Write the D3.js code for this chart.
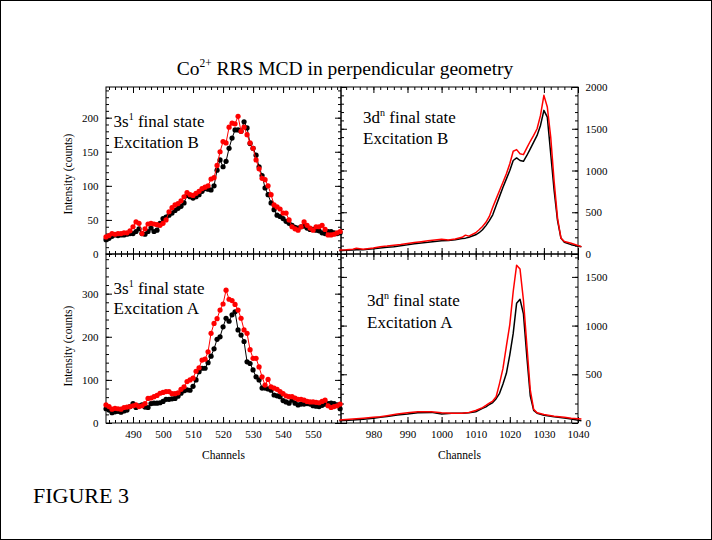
<!DOCTYPE html>
<html><head><meta charset="utf-8">
<script src="https://cdn.jsdelivr.net/npm/d3@7"></script>
<style>
body{margin:0;background:#fff}
svg{display:block}
</style></head><body>
<svg id="c" width="712" height="540"></svg>
<script>
// ---------------- DATA ----------------
const title = "Co";
const titleSup = "2+";
const titleRest = " RRS MCD in perpendicular geometry";
const figureLabel = "FIGURE 3";
const xAxisTitle = "Channels";
const yAxisTitle = "Intensity (counts)";

// 3s^1 final state panels: one point per channel starting at 481
const channels3sStart = 481;
const s3B_black = [21,23,26,28,27,28,28,29,30,30,
  33,37,30,29,33,38,33,35,45,52,
  54,57,60,64,67,70,75,86,84,82,
  84,87,92,96,95,94,100,123,138,128,
  136,155,170,182,182,180,194,185,162,155,
  145,128,115,97,87,75,65,57,55,52,
  48,45,42,39,38,40,41,38,36,36,
  35,34,31,30,33,33,31,30,31];
const s3B_red = [25,27,30,29,30,30,31,31,34,40,
  47,45,30,37,44,45,44,43,42,45,
  50,62,68,72,74,78,84,90,87,86,
  89,92,96,98,100,110,112,130,150,165,
  163,186,192,191,202,180,186,175,163,155,
  138,125,111,109,100,87,72,69,66,60,
  60,50,40,37,35,40,47,42,38,35,
  40,40,42,36,28,28,29,31,33];
const s3A_black = [33,30,24,26,27,25,28,30,38,45,
  36,40,42,37,36,45,46,46,47,50,
  55,55,56,57,62,69,75,77,76,85,
  100,119,127,127,140,155,172,194,200,223,
  243,236,251,258,216,204,189,142,138,123,
  107,100,81,81,79,76,65,63,61,52,
  49,46,53,46,42,44,44,45,44,40,
  39,38,41,44,45,46,45,42,33];
const s3A_red = [42,38,32,34,33,32,36,37,38,40,
  42,38,40,45,57,58,61,64,69,71,
  73,73,68,68,70,78,84,96,100,104,
  120,128,146,148,165,208,231,242,262,276,
  308,287,284,275,262,243,216,208,170,150,
  150,130,107,88,101,84,81,78,73,68,
  63,61,61,58,55,55,53,50,49,49,
  48,47,50,53,40,36,38,40,44];

// 3d^n final state, excitation B
const d3B_channels = [970,972,974,975,977,980,982,984,986,988,990,992,994,996,998,1000,1002,1004,1006,1007,1008,1010,1011,1012,1013,1014,1015,1016,1017,1018,1019,1020,1021,1022,1023,1024,1025,1026,1027,1028,1029,1030,1031,1032,1033,1034,1035,1036,1038,1041];
const d3B_red   = [48,52,58,68,56,72,88,95,104,114,126,138,148,158,168,176,168,180,200,226,214,255,290,330,380,450,560,660,760,860,960,1080,1230,1250,1200,1190,1270,1350,1420,1500,1660,1900,1760,1400,870,430,190,150,128,88];
const d3B_black = [40,44,48,50,50,62,72,80,88,100,110,122,132,140,150,160,162,170,186,190,200,230,255,290,340,400,470,580,690,800,900,1000,1120,1150,1120,1110,1180,1260,1340,1420,1540,1720,1640,1200,760,400,190,140,112,88];

// 3d^n final state, excitation A
const d3A_channels = [970,974,977,980,982,984,987,990,993,997,1000,1003,1006,1008,1010,1012,1013,1014,1015,1016,1017,1018,1019,1020,1021,1022,1023,1024,1025,1026,1027,1028,1030,1033,1036,1038,1041];
const d3A_red   = [31,40,48,58,65,75,92,106,116,116,106,99,99,108,128,158,180,205,225,270,407,560,790,1010,1350,1620,1580,1260,800,340,140,105,88,70,58,50,42];
const d3A_black = [24,30,38,50,58,66,82,92,106,109,92,99,99,104,116,150,165,190,210,250,305,400,510,700,920,1230,1270,1120,680,280,130,100,80,65,50,40,24];

// axis tick values
const xTicks3s = [490,500,510,520,530,540,550];
const xTicks3d = [980,990,1000,1010,1020,1030,1040];
const yTicksTL = [0,50,100,150,200];
const yTicksBL = [0,100,200,300];
const yTicksTR = [0,500,1000,1500,2000];
const yTicksBR = [0,500,1000,1500];

// ---------------- LAYOUT ----------------
const FONT = "'Liberation Serif','Times New Roman',Times,serif";
const svg = d3.select('#c').attr('font-family', FONT);
svg.append('rect').attr('x',0.5).attr('y',0.5).attr('width',711).attr('height',539)
  .attr('fill','#fff').attr('stroke','#000').attr('stroke-width',1);

const LX = [106, 341], RX = [341, 578], TY = [254, 87], BY = [423, 254];

const xL = d3.scaleLinear().domain([481, 559.3]).range(LX);
const xR = d3.scaleLinear().domain([970.5, 1040]).range(RX);
const yTL = d3.scaleLinear().domain([0, 245]).range(TY);
const yTR = d3.scaleLinear().domain([0, 2000]).range(TY);
const yBL = d3.scaleLinear().domain([0, 392]).range(BY);
const yBR = d3.scaleLinear().domain([0, 1735]).range(BY);

function minorTicks(scale, step) {
  const [a, b] = scale.domain();
  return d3.range(Math.ceil(a / step) * step, b + 1e-9, step);
}

function panel(xs, ys, xMaj, xStep, yMaj, yStep, ySide, showX) {
  const g = svg.append('g');
  const [x0, x1] = xs.range();
  const [yb, yt] = ys.range();
  const xMin = minorTicks(xs, xStep), yMin = minorTicks(ys, yStep);
  const defs = [
    [d3.axisBottom, xs, `translate(0,${yb})`, showX],
    [d3.axisTop, xs, `translate(0,${yt})`, false],
    [d3.axisLeft, ys, `translate(${x0},0)`, ySide === 'left'],
    [d3.axisRight, ys, `translate(${x1},0)`, ySide === 'right']
  ];
  defs.forEach(([fn, sc, tr, lab]) => {
    const isX = sc === xs;
    const minor = fn(sc).tickValues(isX ? xMin : yMin).tickSizeInner(-3).tickSizeOuter(0).tickFormat(() => '');
    const major = fn(sc).tickValues(isX ? xMaj : yMaj).tickSizeInner(-6).tickSizeOuter(0)
      .tickPadding(isX ? 7 : 7.5).tickFormat(lab ? d3.format('d') : () => '');
    [minor, major].forEach(a => {
      const ag = g.append('g').attr('transform', tr).call(a);
      ag.select('.domain').remove();
      ag.attr('font-family', FONT).attr('font-size', 11);
      ag.selectAll('line').attr('stroke', '#000');
      ag.selectAll('text').attr('fill', '#000');
    });
  });
  g.append('rect').attr('x', x0).attr('y', yt).attr('width', x1 - x0).attr('height', yb - yt)
    .attr('fill', 'none').attr('stroke', '#000').attr('stroke-width', 1);
  return g;
}

const plotLayer = svg.append('g');
const axisLayerBelow = svg.insert('g', ':first-child');

panel(xL, yTL, xTicks3s, 2, yTicksTL, 10, 'left', false);
panel(xR, yTR, xTicks3d, 2, yTicksTR, 100, 'right', false);
panel(xL, yBL, xTicks3s, 2, yTicksBL, 20, 'left', true);
panel(xR, yBR, xTicks3d, 2, yTicksBR, 100, 'right', true);

function dotted(vals, ys, color) {
  const pts = vals.map((v, i) => [channels3sStart + i, v]);
  const g = svg.append('g');
  g.append('path').datum(pts)
    .attr('d', d3.line().x(d => xL(d[0])).y(d => ys(d[1])))
    .attr('fill', 'none').attr('stroke', color).attr('stroke-width', 1);
  g.selectAll('circle').data(pts).join('circle')
    .attr('cx', d => xL(d[0])).attr('cy', d => ys(d[1])).attr('r', 2.6).attr('fill', color);
}
function lined(chs, vals, ys, color) {
  const pts = vals.map((v, i) => [chs[i], v]);
  svg.append('path').datum(pts)
    .attr('d', d3.line().x(d => xR(d[0])).y(d => ys(d[1])))
    .attr('fill', 'none').attr('stroke', color).attr('stroke-width', 1.5)
    .attr('stroke-linejoin', 'round');
}

dotted(s3B_black, yTL, '#000');
dotted(s3B_red, yTL, '#ff0000');
dotted(s3A_black, yBL, '#000');
dotted(s3A_red, yBL, '#ff0000');
lined(d3B_channels, d3B_black, yTR, '#000');
lined(d3B_channels, d3B_red, yTR, '#ff0000');
lined(d3A_channels, d3A_black, yBR, '#000');
lined(d3A_channels, d3A_red, yBR, '#ff0000');

// ---------------- TEXT ----------------
const t = svg.append('text').attr('x', 345).attr('y', 75).attr('text-anchor', 'middle')
  .attr('font-size', 19.5).attr('fill', '#000');
t.append('tspan').text(title);
t.append('tspan').attr('font-size', 11.5).attr('dy', -8).text(titleSup);
t.append('tspan').attr('dy', 8).text(titleRest);

function annot(x, y1, y2, base, sup, exc) {
  const a = svg.append('text').attr('x', x).attr('y', y1).attr('font-size', 17).attr('fill', '#000');
  a.append('tspan').text(base);
  a.append('tspan').attr('font-size', 10).attr('dy', -7).text(sup);
  a.append('tspan').attr('dy', 7).text(' final state');
  svg.append('text').attr('x', x).attr('y', y2).attr('font-size', 17).attr('fill', '#000').text(exc);
}
annot(113.5, 127, 147.5, '3s', '1', 'Excitation B');
annot(363, 123, 144, '3d', 'n', 'Excitation B');
annot(113.5, 293.5, 314, '3s', '1', 'Excitation A');
annot(367, 306, 327.5, '3d', 'n', 'Excitation A');

[[223.5], [459.5]].forEach(([cx]) => {
  svg.append('text').attr('x', cx).attr('y', 459).attr('text-anchor', 'middle')
    .attr('font-size', 11.5).attr('fill', '#000').text(xAxisTitle);
});
[[174], [346]].forEach(([cy]) => {
  svg.append('text').attr('transform', `translate(72,${cy}) rotate(-90)`).attr('text-anchor', 'middle')
    .attr('font-size', 11.5).attr('fill', '#000').text(yAxisTitle);
});

svg.append('text').attr('x', 33).attr('y', 503).attr('font-size', 22).attr('fill', '#000').text(figureLabel);
</script>
</body></html>
